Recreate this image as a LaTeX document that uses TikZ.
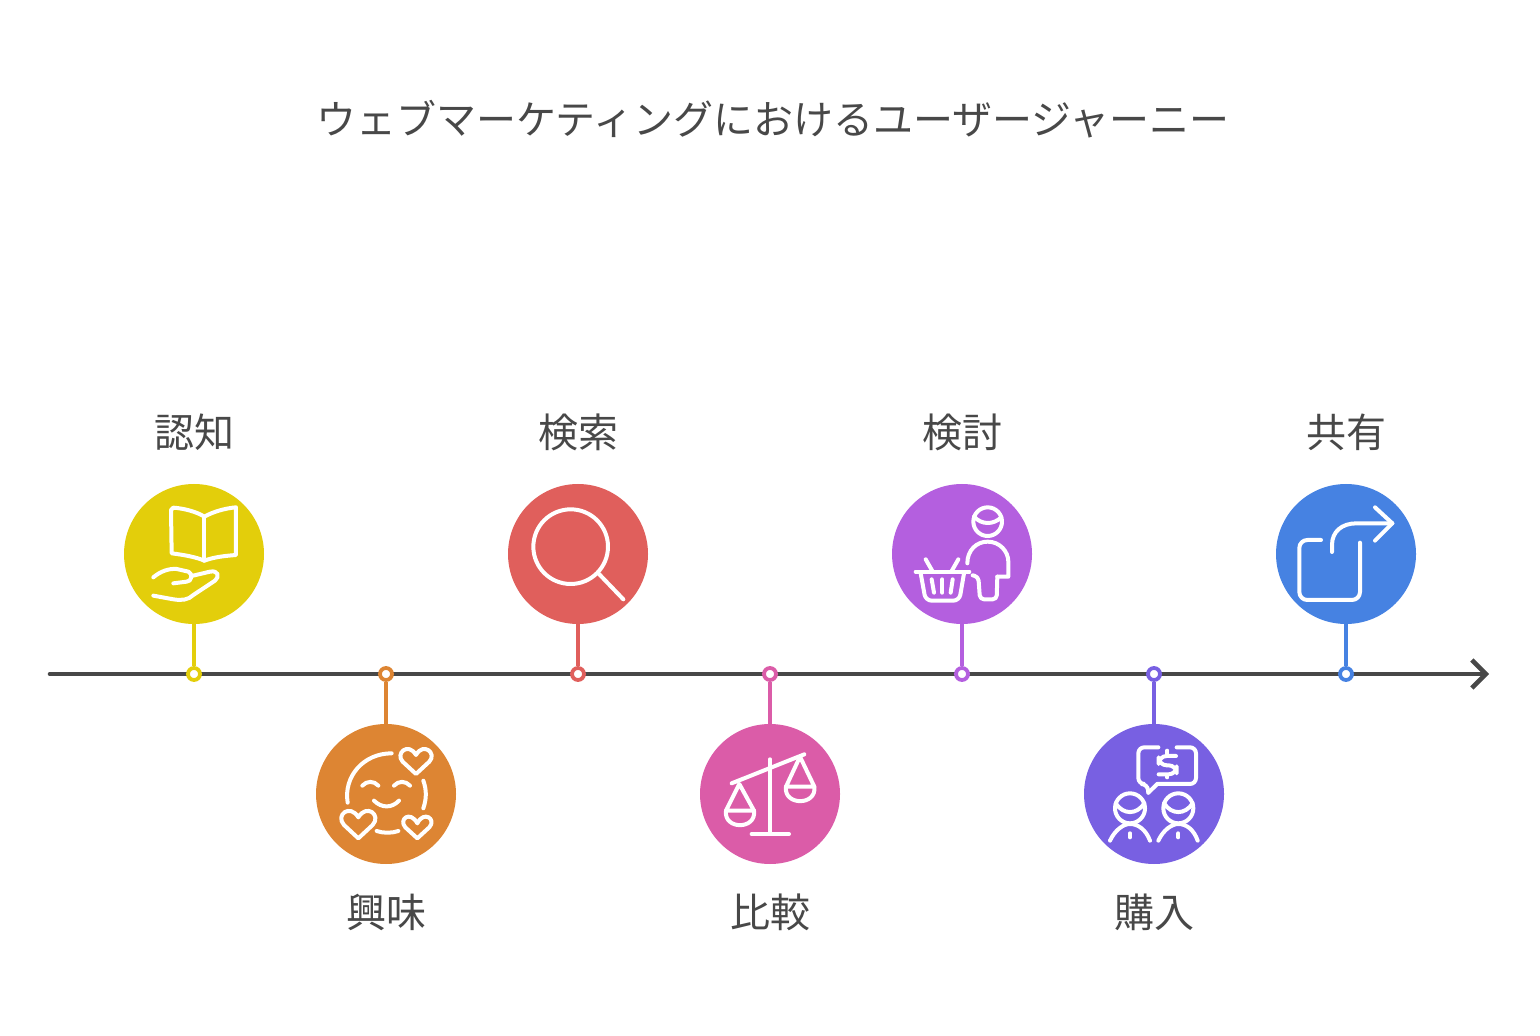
\documentclass[tikz,border=0pt]{standalone}
\usepackage{fontspec}
\setmainfont{Noto Sans CJK JP}
\usetikzlibrary{arrows.meta}
\definecolor{inkgray}{HTML}{484848}
\definecolor{awarecol}{HTML}{E3CE0B}
\definecolor{interestcol}{HTML}{DD8533}
\definecolor{searchcol}{HTML}{E05F5C}
\definecolor{comparecol}{HTML}{DB5CA8}
\definecolor{considercol}{HTML}{B45FDF}
\definecolor{buycol}{HTML}{7860E2}
\definecolor{sharecol}{HTML}{4682E2}
\tikzset{
  disc/.style={circle, inner sep=0pt, minimum size=70pt},
  dot/.style={circle, inner sep=0pt, minimum size=6pt, line width=1.9pt, fill=white},
  stem/.style={line width=1.7pt},
  stagelabel/.style={text=inkgray, font=\fontsize{20}{22}\selectfont},
  icon/.style={draw=white, line width=2pt, line cap=round, line join=round}
}
\begin{document}
\begin{tikzpicture}[x=0.5pt, y=-0.5pt]
\useasboundingbox (0,0) rectangle (1540,1036);

% Title
\node[text=inkgray, font=\fontsize{20}{22}\selectfont] (title) at (773,119) {ウェブマーケティングにおけるユーザージャーニー};

% Time axis
\coordinate (axisstart) at (50,674);
\coordinate (axisend) at (1489,674);
\draw[inkgray, line width=2.3pt, line cap=round, -{Straight Barb[length=7pt, width=14pt, line width=2.3pt]}] (axisstart) -- (axisend);

% Discs, dots and labels
\node[disc, fill=awarecol] (aware) at (194,554) {};
\node[dot, draw=awarecol] (awaredot) at (194,674) {};
\draw[stem, awarecol] (aware) -- (awaredot);
\node[stagelabel] (awarelabel) at (194,432) {認知};

\node[disc, fill=interestcol] (interest) at (386,794) {};
\node[dot, draw=interestcol] (interestdot) at (386,674) {};
\draw[stem, interestcol] (interest) -- (interestdot);
\node[stagelabel] (interestlabel) at (386,912) {興味};

\node[disc, fill=searchcol] (search) at (578,554) {};
\node[dot, draw=searchcol] (searchdot) at (578,674) {};
\draw[stem, searchcol] (search) -- (searchdot);
\node[stagelabel] (searchlabel) at (578,432) {検索};

\node[disc, fill=comparecol] (compare) at (770,794) {};
\node[dot, draw=comparecol] (comparedot) at (770,674) {};
\draw[stem, comparecol] (compare) -- (comparedot);
\node[stagelabel] (comparelabel) at (770,912) {比較};

\node[disc, fill=considercol] (consider) at (962,554) {};
\node[dot, draw=considercol] (considerdot) at (962,674) {};
\draw[stem, considercol] (consider) -- (considerdot);
\node[stagelabel] (considerlabel) at (962,432) {検討};

\node[disc, fill=buycol] (buy) at (1154,794) {};
\node[dot, draw=buycol] (buydot) at (1154,674) {};
\draw[stem, buycol] (buy) -- (buydot);
\node[stagelabel] (buylabel) at (1154,912) {購入};

\node[disc, fill=sharecol] (share) at (1346,554) {};
\node[dot, draw=sharecol] (sharedot) at (1346,674) {};
\draw[stem, sharecol] (share) -- (sharedot);
\node[stagelabel] (sharelabel) at (1346,432) {共有};

% Book on a hand
\begin{scope}[shift={(110,470)}, scale=0.3333, icon]
\draw (283,140) .. controls (260,125) and (220,115) .. (190,113) -- (183,120) -- (185,250) .. controls (225,255) and (260,262) .. (283,272) .. controls (310,262) and (340,258) .. (378,255) -- (378,112) .. controls (345,115) and (310,125) .. (283,140) -- cycle;
\draw (283,140) -- (283,272);
\draw (130,322) .. controls (150,305) and (175,295) .. (200,297) -- (235,305) .. controls (250,312) and (245,335) .. (230,335) -- (190,340);
\draw (245,318) -- (300,305) .. controls (325,300) and (330,320) .. (315,332) -- (250,375) .. controls (235,390) and (215,392) .. (190,388) -- (130,377);
\end{scope}

% Smiling face with hearts
\begin{scope}[shift={(300,660)}, scale=0.3333, icon]
\draw (143,428) .. controls (130,350) and (190,280) .. (275,280);
\draw (370,362) .. controls (380,390) and (380,415) .. (370,445);
\draw (230,513) .. controls (250,520) and (275,520) .. (295,513);
\draw (187,377) .. controls (200,362) and (222,362) .. (235,377);
\draw (282,377) .. controls (295,362) and (317,362) .. (330,377);
\draw (222,422) .. controls (245,445) and (275,445) .. (297,422);
\draw (348,342) -- (308,305) .. controls (285,280) and (325,245) .. (348,285) .. controls (370,245) and (412,280) .. (388,305) -- cycle;
\draw (175,535) -- (132,495) .. controls (105,465) and (150,430) .. (175,472) .. controls (200,430) and (245,465) .. (218,495) -- cycle;
\draw (352,535) -- (316,502) .. controls (295,478) and (330,450) .. (352,490) .. controls (372,450) and (410,478) .. (388,502) -- cycle;
\end{scope}

% Magnifying glass
\begin{scope}[shift={(495,470)}, scale=0.3333, icon]
\draw (227,230) circle (112);
\draw (312,312) -- (385,388);
\end{scope}

% Balance scale
\begin{scope}[shift={(685,660)}, scale=0.3333, icon]
\draw (255,298) -- (255,522);
\draw (200,522) -- (312,522);
\draw (140,370) -- (358,283);
\draw (163,372) -- (123,452) -- (207,452) -- cycle;
\draw (123,452) .. controls (115,510) and (215,510) .. (207,452);
\draw (345,290) -- (303,380) -- (388,380) -- cycle;
\draw (303,380) .. controls (295,438) and (396,438) .. (388,380);
\end{scope}

% Shopper with basket
\begin{scope}[shift={(880,470)}, scale=0.3333, icon]
\draw (323,155) circle (43);
\draw (282,140) .. controls (305,165) and (340,165) .. (364,142);
\draw (262,280) .. controls (262,240) and (290,215) .. (323,215) .. controls (360,215) and (385,245) .. (385,275) -- (385,320) -- (352,320);
\draw[rounded corners=2pt] (352,320) -- (350,388) -- (300,388) -- (295,320) -- (278,316);
\draw (107,305) -- (268,305);
\draw[rounded corners=3pt] (122,310) -- (137,392) -- (238,392) -- (252,310);
\draw (137,268) -- (157,303);
\draw (235,268) -- (215,303);
\draw (155,328) -- (162,368);
\draw (187,328) -- (187,368);
\draw (218,328) -- (212,368);
\end{scope}

% Two buyers talking about money
\begin{scope}[shift={(1070,660)}, scale=0.3333, icon]
\draw[rounded corners=3pt] (265,262) -- (205,262) -- (205,372) -- (232,372) -- (235,398);
\draw (235,398) -- (262,372);
\draw[rounded corners=3pt] (262,372) -- (378,372) -- (378,262) -- (320,262);
\draw[rounded corners=4pt] (318,288) -- (266,288) -- (266,316) -- (320,316) -- (320,343) -- (266,343);
\draw (292,272) -- (292,282);
\draw (292,348) -- (292,352);
\draw (180,445) circle (45);
\draw (137,430) .. controls (160,465) and (200,465) .. (223,430);
\draw (120,542) .. controls (135,510) and (160,492) .. (180,492) .. controls (205,492) and (228,510) .. (240,542);
\draw (180,520) -- (180,532);
\draw (325,445) circle (45);
\draw (282,430) .. controls (305,465) and (345,465) .. (368,430);
\draw (265,542) .. controls (280,510) and (305,492) .. (325,492) .. controls (350,492) and (372,510) .. (383,542);
\draw (325,520) -- (325,532);
\end{scope}

% Share arrow leaving a box
\begin{scope}[shift={(1260,470)}, scale=0.3333, icon]
\draw[rounded corners=4pt] (183,210) -- (118,210) -- (118,390) -- (300,390) -- (300,218);
\draw (216,246) -- (216,225) .. controls (216,185) and (245,160) .. (290,160) -- (397,160);
\draw (345,112) -- (397,160) -- (345,212);
\end{scope}
\end{tikzpicture}
\end{document}
